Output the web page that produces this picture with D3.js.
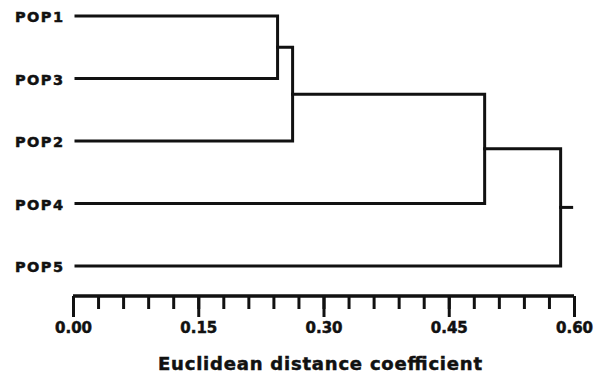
<!DOCTYPE html>
<html>
<head>
<meta charset="utf-8">
<script src="https://cdn.jsdelivr.net/npm/d3@7"></script>
<style>
  body { margin: 0; background: #fff; }
  svg text { font-family: "DejaVu Sans", sans-serif; font-weight: bold; fill: #111;
             stroke: #111; stroke-width: 0.5px; }
</style>
</head>
<body>
<svg id="chart" width="598" height="376"></svg>
<script>
// leaves, top to bottom
var leafNames = ["POP1", "POP3", "POP2", "POP4", "POP5"];
// merge steps: child A + child B joined at distance
var mergeA = ["POP1", "C1", "C2", "C3"];
var mergeB = ["POP3", "POP2", "POP4", "POP5"];
var mergeName = ["C1", "C2", "C3", "C4"];
var mergeDist = [0.245, 0.263, 0.493, 0.584];
var majorTicks = [0.00, 0.15, 0.30, 0.45, 0.60];
var minorTicks = d3.range(0, 0.6001, 0.03);

var svg = d3.select("#chart");
var x = d3.scaleLinear().domain([0, 0.6]).range([73, 574]);
var y = d3.scalePoint().domain(leafNames).range([16, 266]);

// position of every node: [distance, y]
var pos = {};
leafNames.forEach(function(n) { pos[n] = { d: 0, y: y(n) }; });

var g = svg.append("g")
  .attr("fill", "none")
  .attr("stroke", "#111")
  .attr("stroke-width", 3)
  .attr("stroke-linecap", "square");

mergeName.forEach(function(name, i) {
  var a = pos[mergeA[i]], b = pos[mergeB[i]], d = mergeDist[i];
  var xa = a.d === 0 ? 76 : x(a.d);
  var xb = b.d === 0 ? 76 : x(b.d);
  g.append("path")
    .attr("d", "M" + xa + "," + a.y + "H" + x(d) + "V" + b.y + "H" + xb);
  pos[name] = { d: d, y: (a.y + b.y) / 2 };
});

// root stub
var root = pos[mergeName[mergeName.length - 1]];
g.append("path").attr("d", "M" + x(root.d) + "," + root.y + "h11");

// leaf labels
svg.selectAll(".leaf")
  .data(leafNames)
  .enter().append("text")
  .attr("class", "leaf")
  .attr("x", 15)
  .attr("y", function(d) { return y(d) + 1; })
  .attr("dy", "0.36em")
  .attr("textLength", 48)
  .attr("lengthAdjust", "spacing")
  .style("font-size", "14.5px")
  .text(function(d) { return d; });

// axis
var axisY = 296;
var minorAxis = d3.axisBottom(x).tickValues(minorTicks).tickSize(13).tickSizeOuter(0).tickFormat("");
var majorAxis = d3.axisBottom(x).tickValues(majorTicks).tickSize(21).tickSizeOuter(0)
  .tickFormat(d3.format(".2f")).tickPadding(5);

var ga = svg.append("g").attr("transform", "translate(0," + axisY + ")").call(minorAxis);
var gb = svg.append("g").attr("transform", "translate(0," + axisY + ")").call(majorAxis);
[ga, gb].forEach(function(s) {
  s.selectAll("path.domain").attr("stroke", "#111").attr("stroke-width", 3)
    .attr("d", "M" + x(0) + ",0H" + x(0.6));
  s.selectAll(".tick line").attr("stroke", "#111").attr("stroke-width", 3);
});
gb.selectAll(".tick text")
  .style("font-size", "15px")
  .attr("fill", "#111");

svg.append("text")
  .attr("x", 158)
  .attr("y", 370)
  .attr("textLength", 324)
  .attr("lengthAdjust", "spacing")
  .style("font-size", "18px")
  .text("Euclidean distance coefficient");
</script>
</body>
</html>
